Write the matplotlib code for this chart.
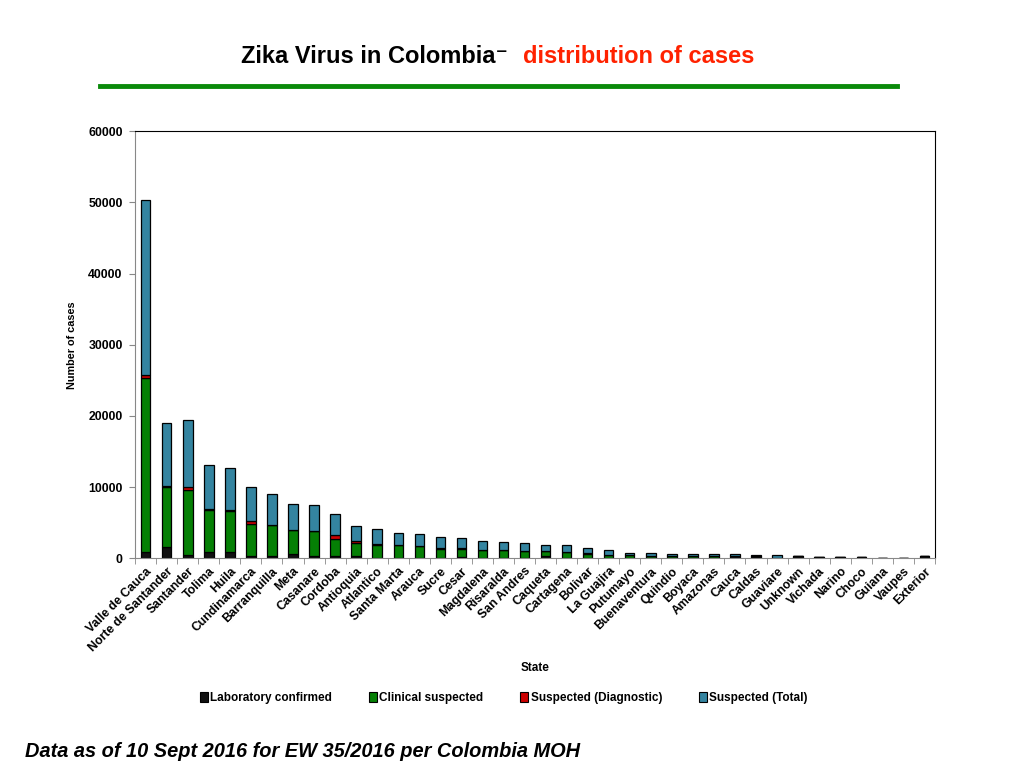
import numpy as np
import matplotlib
matplotlib.use('Agg')
from matplotlib import pyplot as plt
from matplotlib.lines import Line2D
from matplotlib.patches import Patch

plt.rcParams['font.family'] = ['Liberation Sans', 'DejaVu Sans']

states = ['Valle de Cauca', 'Norte de Santander', 'Santander', 'Tolima', 'Huila',
          'Cundinamarca', 'Barranquilla', 'Meta', 'Casanare', 'Cordoba',
          'Antioquia', 'Atlantico', 'Santa Marta', 'Arauca', 'Sucre', 'Cesar',
          'Magdalena', 'Risaralda', 'San Andres', 'Caqueta', 'Cartagena',
          'Bolivar', 'La Guajira', 'Putumayo', 'Buenaventura', 'Quindio',
          'Boyaca', 'Amazonas', 'Cauca', 'Caldas', 'Guaviare', 'Unknown',
          'Vichada', 'Narino', 'Choco', 'Guiana', 'Vaupes', 'Exterior']

lab_confirmed = [850, 1600, 450, 850, 850, 300, 300, 550, 280, 280,
                 280, 50, 50, 50, 50, 200, 50, 50, 50, 280,
                 50, 50, 50, 50, 50, 50, 50, 50, 300, 150,
                 0, 280, 140, 140, 140, 100, 100, 280]
clinical = [24550, 8450, 9100, 5900, 5850, 4550, 4330, 3500, 3500, 2400,
            1820, 1850, 1850, 1700, 1300, 1150, 1080, 1100, 980, 750,
            840, 600, 400, 420, 280, 300, 250, 250, 0, 150,
            100, 0, 0, 0, 0, 0, 0, 0]
diagnostic = [300, 100, 420, 250, 50, 330, 0, 0, 80, 550,
              290, 100, 0, 0, 100, 100, 80, 0, 0, 0,
              0, 80, 80, 0, 0, 0, 0, 0, 0, 0,
              0, 0, 0, 0, 0, 0, 0, 0]
suspected_total = [24700, 8800, 9400, 6050, 5900, 4900, 4350, 3650, 3600, 2950,
                   2100, 2070, 1700, 1660, 1540, 1400, 1220, 1140, 1120, 840,
                   980, 720, 640, 280, 420, 300, 260, 260, 260, 120,
                   320, 0, 0, 0, 0, 0, 0, 0]

series = [('Laboratory confirmed', lab_confirmed, '#111111'),
          ('Clinical suspected', clinical, '#058005'),
          ('Suspected (Diagnostic)', diagnostic, '#cc0000'),
          ('Suspected (Total)', suspected_total, '#3484a0')]

fig = plt.figure(figsize=(10.24, 7.68), dpi=100)
ax = fig.add_axes([0.132, 0.273, 0.781, 0.556])

x = np.arange(len(states))
bottom = np.zeros(len(states))
for name, vals, col in series:
    vals = np.array(vals, dtype=float)
    ax.bar(x, vals, width=0.45, bottom=bottom, color=col,
           edgecolor='black', linewidth=0.9, label=name)
    bottom += vals

ax.set_xlim(-0.5, len(states) - 0.5)
ax.set_ylim(0, 60000)
ax.set_yticks(np.arange(0, 60001, 10000))
ax.set_yticklabels([str(v) for v in range(0, 60001, 10000)],
                   fontsize=8.8, fontweight='bold')
ax.set_xticks(x)
ax.set_xticklabels(states, rotation=45, ha='right', rotation_mode='anchor',
                   fontsize=8.8, fontweight='bold')
ax.set_xticks(np.arange(len(states) + 1) - 0.5, minor=True)
ax.tick_params(axis='x', which='major', length=0, pad=5)
ax.tick_params(axis='x', which='minor', length=4, color='#888888')
ax.tick_params(axis='y', length=4, color='#888888', pad=5)

ax.spines['left'].set_color('#888888')
ax.spines['bottom'].set_color('#888888')
ax.spines['top'].set_color('black')
ax.spines['right'].set_color('black')

ax.set_ylabel('Number of cases', fontsize=7.8, fontweight='bold', labelpad=8)
ax.set_xlabel('State', fontsize=8.5, fontweight='bold', labelpad=6)

handles = [Patch(facecolor=c, edgecolor='black', linewidth=0.8) for _, _, c in series]
fig.legend(handles, [s[0] for s in series], loc='center', ncol=4,
           bbox_to_anchor=(0.492, 0.091), frameon=False,
           prop={'size': 8.5, 'weight': 'bold'}, handlelength=0.7,
           handleheight=0.9, handletextpad=0.2, columnspacing=3.1)

# title in two colours
fig.text(0.503, 0.927, 'Zika Virus in Colombia\u207b ', ha='right', va='center',
         fontsize=17, fontweight='bold', color='black')
fig.text(0.511, 0.927, 'distribution of cases', ha='left', va='center',
         fontsize=17, fontweight='bold', color='#ff2200')
fig.add_artist(Line2D([0.098, 0.876], [0.888, 0.888], color='#0a8a0a',
                      linewidth=3.5, transform=fig.transFigure))

fig.text(0.024, 0.022, 'Data as of 10 Sept 2016 for EW 35/2016 per Colombia MOH',
         ha='left', va='center', fontsize=14.4, fontweight='bold', style='italic')

fig.savefig('out.png', dpi=100)
